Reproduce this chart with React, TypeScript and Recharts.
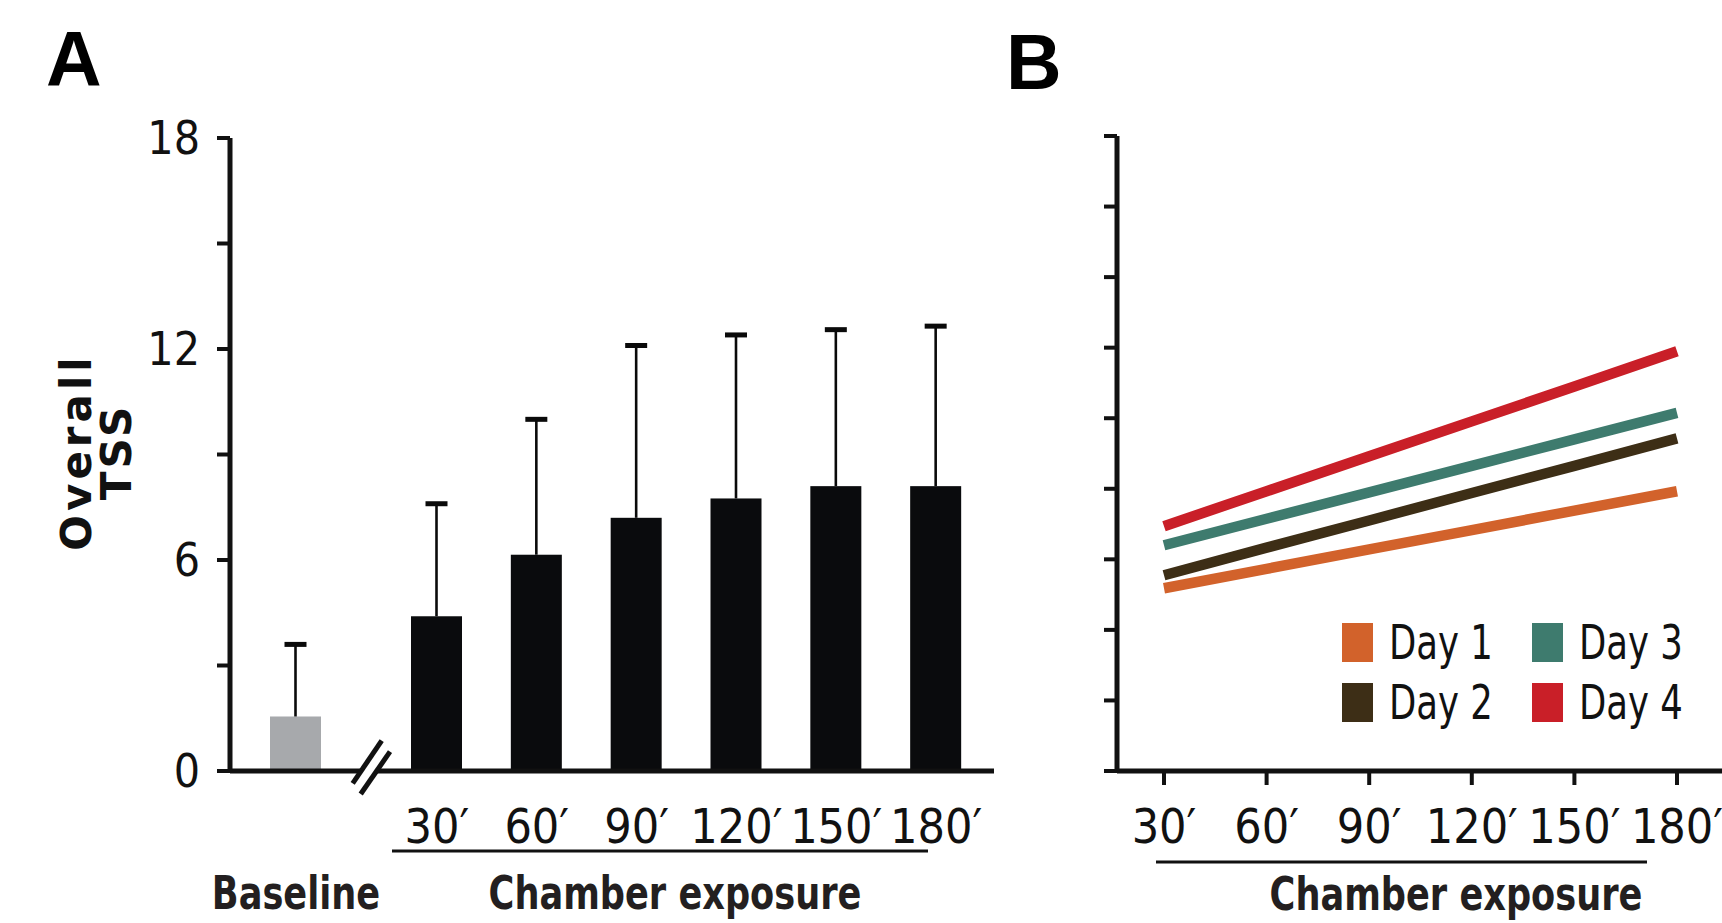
import { Bar, BarChart, Legend, Line, LineChart, XAxis, YAxis } from "recharts";

// panel A
const baselineLabels = ["Baseline"];
const baselineMean = [1.55];
const baselineErr = [2.05];

const exposureLabels = ["30′", "60′", "90′", "120′", "150′", "180′"];
const exposureMean = [4.4, 6.15, 7.2, 7.75, 8.1, 8.1];
const exposureErr = [3.2, 3.85, 4.9, 4.65, 4.45, 4.55];

const ticksA = [0, 3, 6, 9, 12, 15, 18];

// panel B
const dayNames = ["Day 1", "Day 2", "Day 3", "Day 4"];
const day1 = [5.18, 5.73, 6.28, 6.83, 7.38, 7.93];
const day2 = [5.55, 6.33, 7.1, 7.88, 8.65, 9.43];
const day3 = [6.4, 7.15, 7.9, 8.65, 9.4, 10.15];
const day4 = [6.94, 7.93, 8.92, 9.91, 10.9, 11.9];
const dayColors = ["#d2622b", "#3d2e16", "#3e7b6e", "#c91f28"];

const ticksB = [0, 2, 4, 6, 8, 10, 12, 14, 16, 18];

const narrow = '"Liberation Sans Narrow", "DejaVu Sans Condensed", sans-serif';
const wide = '"DejaVu Sans", Verdana, sans-serif';
const heavy = '"Liberation Sans", Arial, sans-serif';
const ink = "#111";
const labelInk = "#231f20";

const baselineData = baselineLabels.map((name, i) => ({
  name,
  mean: baselineMean[i],
  err: baselineErr[i],
}));

const exposureData = exposureLabels.map((name, i) => ({
  name,
  mean: exposureMean[i],
  err: exposureErr[i],
}));

const dayData = exposureLabels.map((name, i) => ({
  name,
  d1: day1[i],
  d2: day2[i],
  d3: day3[i],
  d4: day4[i],
}));

// bar + upper whisker only
const WhiskerBar = (props: any) => {
  const { x, y, width, height, fill, payload, value } = props;
  const top = Array.isArray(value) ? value[1] : value;
  const perUnit = top ? height / top : 0;
  const errY = y - payload.err * perUnit;
  const cx = x + width / 2;
  return (
    <g>
      <rect x={x} y={y} width={width} height={height} fill={fill} />
      <line x1={cx} x2={cx} y1={y} y2={errY} stroke="#0a0a0a" strokeWidth={2.6} />
      <line x1={cx - 11} x2={cx + 11} y1={errY} y2={errY} stroke="#0a0a0a" strokeWidth={5} />
    </g>
  );
};

const TimeTick = (props: any) => {
  const { x, y, payload, dy } = props;
  return (
    <text x={x} y={y + dy} textAnchor="middle" fontSize={48} fontFamily={narrow} fill={ink}>
      {payload.value}
    </text>
  );
};

// condensed bold caption
const Caption = ({ x, y, children }: any) => (
  <text
    transform={`translate(${x},${y}) scale(0.85,1)`}
    textAnchor="middle"
    fontSize={46}
    fontWeight="bold"
    fontFamily={narrow}
    fill={labelInk}
  >
    {children}
  </text>
);

const DayLegend = (props: any) => (
  <div
    style={{
      display: "grid",
      gridAutoFlow: "column",
      gridTemplateRows: "60px 60px",
      gridTemplateColumns: "190px 190px",
    }}
  >
    {(props.payload || []).map((p: any) => (
      <div key={p.value} style={{ display: "flex", alignItems: "center" }}>
        <span style={{ width: 31, height: 39, background: p.color, marginRight: 16, flex: "none" }} />
        <span
          style={{
            fontSize: 48,
            fontFamily: narrow,
            color: ink,
            lineHeight: "48px",
            display: "inline-block",
            whiteSpace: "nowrap",
            transform: "scaleX(0.82)",
            transformOrigin: "left center",
          }}
        >
          {p.value}
        </span>
      </div>
    ))}
  </div>
);

const axisStroke = { stroke: ink, strokeWidth: 5 };
const tickStroke = { stroke: ink, strokeWidth: 4 };

export default function App() {
  return (
    <div
      style={{
        position: "absolute",
        left: 0,
        top: 0,
        width: 1722,
        height: 923,
        background: "#fff",
        overflow: "hidden",
      }}
    >
      {/* A: baseline */}
      <div style={{ position: "absolute", left: 0, top: 0 }}>
        <BarChart width={361} height={923} data={baselineData} margin={{ top: 138, right: 0, bottom: 92, left: 0 }}>
          <XAxis
            dataKey="name"
            height={60}
            interval={0}
            tickLine={false}
            tickSize={0}
            tickMargin={0}
            axisLine={axisStroke}
            tickFormatter={() => ""}
          />
          <YAxis
            width={230}
            domain={[0, 18]}
            ticks={ticksA}
            interval={0}
            tickSize={13}
            tickMargin={17}
            axisLine={axisStroke}
            tickLine={tickStroke}
            tickFormatter={(v: number) => (v % 6 === 0 ? String(v) : "")}
            tick={{ fontSize: 46, fill: ink, fontFamily: narrow }}
          />
          <Bar dataKey="mean" fill="#a7a9ac" barSize={51} shape={WhiskerBar} isAnimationActive={false} />
        </BarChart>
      </div>

      {/* A: chamber exposure */}
      <div style={{ position: "absolute", left: 361, top: 0 }}>
        <BarChart width={633} height={923} data={exposureData} margin={{ top: 138, right: 0, bottom: 92, left: 0 }}>
          <XAxis
            dataKey="name"
            height={60}
            interval={0}
            padding={{ left: 26, right: 8 }}
            tickLine={false}
            tickSize={0}
            tickMargin={0}
            axisLine={axisStroke}
            tick={<TimeTick dy={72} />}
          />
          <YAxis hide domain={[0, 18]} />
          <Bar dataKey="mean" fill="#0a0b0d" barSize={51} shape={WhiskerBar} isAnimationActive={false} />
        </BarChart>
      </div>

      {/* B */}
      <div style={{ position: "absolute", left: 1000, top: 0 }}>
        <LineChart width={722} height={923} data={dayData} margin={{ top: 136, right: 0, bottom: 92, left: 0 }}>
          <XAxis
            dataKey="name"
            scale="point"
            height={60}
            interval={0}
            padding={{ left: 47, right: 45 }}
            tickSize={14}
            tickMargin={0}
            axisLine={axisStroke}
            tickLine={tickStroke}
            tick={<TimeTick dy={58} />}
          />
          <YAxis
            width={117}
            domain={[0, 18]}
            ticks={ticksB}
            interval={0}
            tickSize={13}
            axisLine={axisStroke}
            tickLine={tickStroke}
            tickFormatter={() => ""}
          />
          {[day1, day2, day3, day4].map((_, i) => (
            <Line
              key={dayNames[i]}
              dataKey={`d${i + 1}`}
              name={dayNames[i]}
              stroke={dayColors[i]}
              strokeWidth={10.5}
              dot={false}
              activeDot={false}
              isAnimationActive={false}
            />
          ))}
          <Legend
            content={<DayLegend />}
            layout="horizontal"
            verticalAlign="middle"
            align="center"
            wrapperStyle={{ left: 342, top: 612, width: 380, height: 120 }}
          />
        </LineChart>
      </div>

      {/* labels, break marks, group lines */}
      <svg
        width={1722}
        height={923}
        style={{ position: "absolute", left: 0, top: 0, pointerEvents: "none" }}
      >
        <text x={46} y={86} fontSize={77} fontWeight="bold" fontFamily={heavy} fill="#000">
          A
        </text>
        <text x={1006} y={89} fontSize={77} fontWeight="bold" fontFamily={heavy} fill="#000">
          B
        </text>

        <text
          transform="translate(91,452) rotate(-90)"
          textAnchor="middle"
          fontSize={42}
          letterSpacing={4}
          fontWeight="bold"
          fontFamily={wide}
          fill={ink}
        >
          Overall
        </text>
        <text
          transform="translate(131,452) rotate(-90)"
          textAnchor="middle"
          fontSize={42}
          letterSpacing={3}
          fontWeight="bold"
          fontFamily={wide}
          fill={ink}
        >
          TSS
        </text>

        <polygon points="352.7,783.3 381.7,740.7 390,751.7 360.7,794" fill="#fff" />
        <line x1={352.7} y1={783.3} x2={381.7} y2={740.7} stroke={ink} strokeWidth={5} />
        <line x1={360.7} y1={794} x2={390} y2={751.7} stroke={ink} strokeWidth={5} />

        <Caption x={296} y={909}>
          {baselineLabels[0]}
        </Caption>

        <line x1={392} x2={928} y1={851} y2={851} stroke={ink} strokeWidth={3} />
        <Caption x={675} y={909}>
          Chamber exposure
        </Caption>

        <line x1={1156} x2={1647} y1={862} y2={862} stroke={ink} strokeWidth={3} />
        <Caption x={1456} y={910}>
          Chamber exposure
        </Caption>
      </svg>
    </div>
  );
}
